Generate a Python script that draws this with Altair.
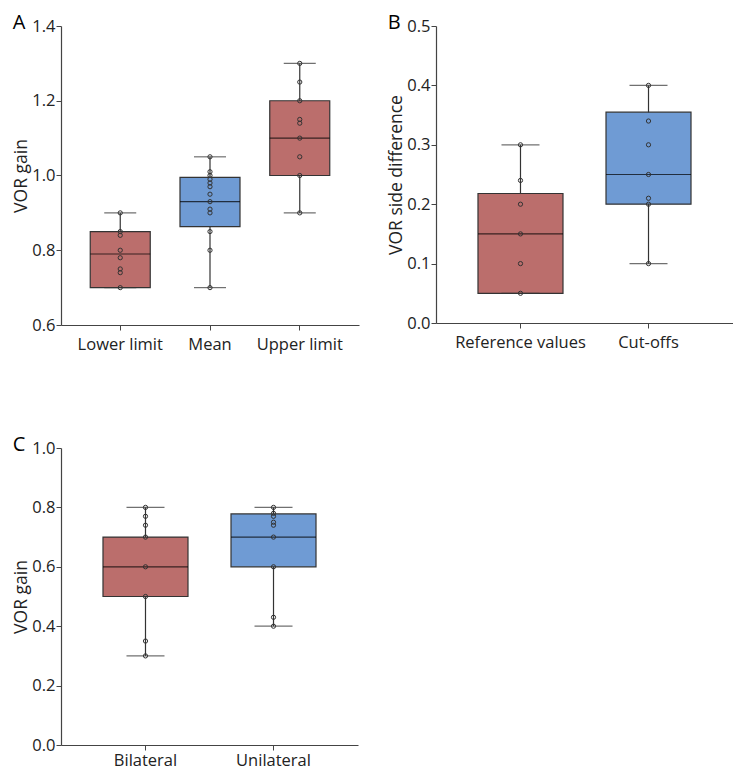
import altair as alt
import pandas as pd

RED = "#bb6e6c"
BLUE = "#6f9bd4"
INK = "#333333"
FONT = "Open Sans"

# ---- Panel A ----
a_cats = ["Lower limit", "Mean", "Upper limit"]
a_colors = [RED, BLUE, RED]
a_q1 = [0.70, 0.863, 1.00]
a_med = [0.79, 0.93, 1.10]
a_q3 = [0.85, 0.995, 1.20]
a_lo = [0.70, 0.70, 0.90]
a_hi = [0.90, 1.05, 1.30]
a_pts_lower = [0.70, 0.74, 0.75, 0.78, 0.80, 0.84, 0.85, 0.90]
a_pts_mean = [0.70, 0.80, 0.85, 0.90, 0.91, 0.93, 0.95, 0.97, 0.98, 0.99, 1.00, 1.01, 1.05]
a_pts_upper = [0.90, 1.00, 1.05, 1.10, 1.14, 1.15, 1.20, 1.25, 1.30]

# ---- Panel B ----
b_cats = ["Reference values", "Cut-offs"]
b_colors = [RED, BLUE]
b_q1 = [0.05, 0.20]
b_med = [0.15, 0.25]
b_q3 = [0.218, 0.355]
b_lo = [0.05, 0.10]
b_hi = [0.30, 0.40]
b_pts_ref = [0.05, 0.10, 0.15, 0.20, 0.24, 0.30]
b_pts_cut = [0.10, 0.20, 0.21, 0.25, 0.30, 0.34, 0.40]

# ---- Panel C ----
c_cats = ["Bilateral", "Unilateral"]
c_colors = [RED, BLUE]
c_q1 = [0.50, 0.60]
c_med = [0.60, 0.70]
c_q3 = [0.70, 0.778]
c_lo = [0.30, 0.40]
c_hi = [0.80, 0.80]
c_pts_bi = [0.30, 0.35, 0.50, 0.60, 0.70, 0.74, 0.77, 0.80]
c_pts_uni = [0.40, 0.43, 0.60, 0.70, 0.74, 0.75, 0.77, 0.78, 0.80]


def panel(letter, cats, colors, q1, med, q3, lo, hi, pts, ydomain, yticks, ytitle,
          width, height, boxsize, capsize, xlabpad):
    box = pd.DataFrame({"cat": cats, "color": colors, "q1": q1, "med": med,
                        "q3": q3, "lo": lo, "hi": hi})
    rows = []
    for c, vals in zip(cats, pts):
        for v in vals:
            rows.append({"cat": c, "val": v})
    pdf = pd.DataFrame(rows)

    xenc = alt.X("cat:N", sort=cats, title=None,
                 scale=alt.Scale(paddingInner=0, paddingOuter=0.16),
                 axis=alt.Axis(labelAngle=0, labelPadding=xlabpad, tickSize=5,
                               labelFontSize=16.5, grid=False))
    yscale = alt.Scale(domain=ydomain, nice=False, zero=False)
    yaxis = alt.Axis(values=yticks, format=".1f", tickSize=5, labelPadding=1, grid=False,
                     labelFontSize=16.5, titleFontSize=17.5, titlePadding=1,
                     titleFontWeight="normal")

    base = alt.Chart(box)
    whisk = base.mark_rule(color=INK, strokeWidth=1.2).encode(
        x=xenc, y=alt.Y("lo:Q", scale=yscale, axis=yaxis, title=ytitle), y2="hi:Q")
    bars = base.mark_bar(stroke=INK, strokeWidth=1.2, size=boxsize, opacity=1).encode(
        x=xenc, y=alt.Y("q1:Q", scale=yscale), y2="q3:Q",
        fill=alt.Fill("color:N", scale=None))
    median = base.mark_tick(color="black", size=boxsize, thickness=1.2).encode(
        x=xenc, y=alt.Y("med:Q", scale=yscale))
    cap_lo = base.mark_tick(color=INK, size=capsize, thickness=1.2).encode(
        x=xenc, y=alt.Y("lo:Q", scale=yscale))
    cap_hi = base.mark_tick(color=INK, size=capsize, thickness=1.2).encode(
        x=xenc, y=alt.Y("hi:Q", scale=yscale))
    points = alt.Chart(pdf).mark_point(shape="circle", filled=False, size=18,
                                       stroke=INK, strokeWidth=1, opacity=1).encode(
        x=xenc, y=alt.Y("val:Q", scale=yscale))

    return alt.layer(whisk, bars, median, cap_lo, cap_hi, points).properties(
        width=width, height=height,
        title=alt.TitleParams(letter, anchor="start", frame="bounds", fontSize=20,
                              fontWeight="normal", font=FONT, color="black",
                              offset=-15),
    )


A = panel("A", a_cats, a_colors, a_q1, a_med, a_q3, a_lo, a_hi,
          [a_pts_lower, a_pts_mean, a_pts_upper], [0.6, 1.4], [0.6, 0.8, 1.0, 1.2, 1.4],
          "VOR gain", 298, 299, 60, 32, 6)
B = panel("B", b_cats, b_colors, b_q1, b_med, b_q3, b_lo, b_hi,
          [b_pts_ref, b_pts_cut], [0, 0.5], [0, 0.1, 0.2, 0.3, 0.4, 0.5],
          "VOR side difference", 297, 297, 85, 38, 6)
C = panel("C", c_cats, c_colors, c_q1, c_med, c_q3, c_lo, c_hi,
          [c_pts_bi, c_pts_uni], [0, 1.0], [0, 0.2, 0.4, 0.6, 0.8, 1.0],
          "VOR gain", 297, 297, 85, 38, 2)

chart = alt.vconcat(
    alt.hconcat(A, B, spacing=28),
    C,
    spacing=82,
).properties(padding={"left": 4, "top": 5, "right": 0, "bottom": 0}).configure(
    font=FONT).configure_view(stroke=None).configure_axis(
    grid=False, domainColor="#444444", tickColor="#444444", labelColor="#222222",
    titleColor="#222222", labelFont=FONT, titleFont=FONT, domainWidth=1.2,
)

chart.save("out.html", embed_options={"renderer": "svg", "actions": False})
